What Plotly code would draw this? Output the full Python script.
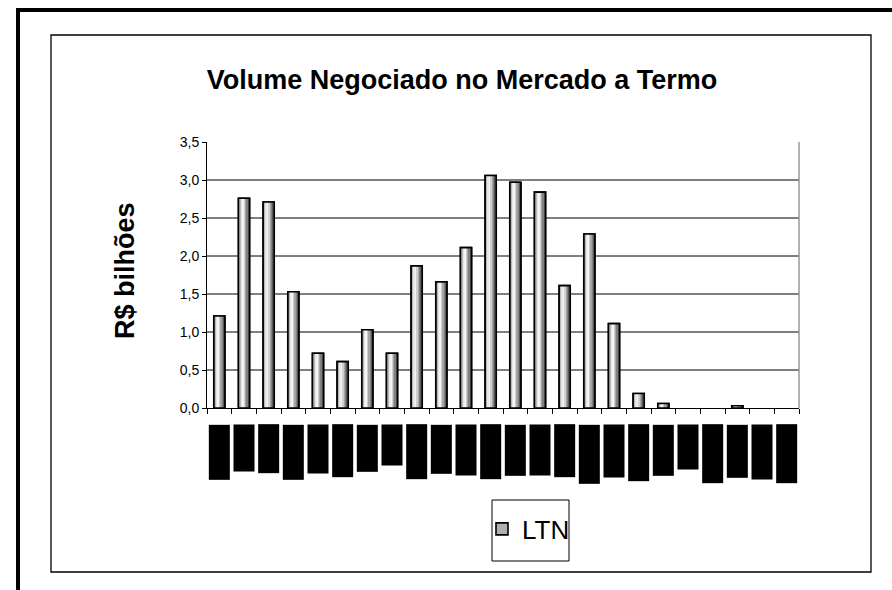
import plotly.graph_objects as go

# ---- data ----
categories = ["jan/00", "fev/00", "mar/00", "abr/00", "mai/00", "jun/00",
              "jul/00", "ago/00", "set/00", "out/00", "nov/00", "dez/00",
              "jan/01", "fev/01", "mar/01", "abr/01", "mai/01", "jun/01",
              "jul/01", "ago/01", "set/01", "out/01", "nov/01", "dez/01"]
ltn_values = [1.21, 2.76, 2.71, 1.53, 0.72, 0.61, 1.03, 0.72, 1.87, 1.66, 2.11, 3.06,
              2.97, 2.84, 1.61, 2.29, 1.11, 0.19, 0.06, 0.0, 0.0, 0.03, 0.0, 0.0]
series_name = "LTN"
title_text = "Volume Negociado no Mercado a Termo"
y_title = "R$ bilhões"
y_ticks = [0, 0.5, 1.0, 1.5, 2.0, 2.5, 3.0, 3.5]
# lengths (px) of the blacked-out tick-label blocks
label_block_len = [54, 46, 48, 54, 48, 52, 46, 40, 54, 48, 50, 54,
                   50, 50, 52, 58, 52, 56, 50, 44, 58, 52, 54, 58]

# ---- geometry ----
W, H = 892, 590
L, R, T, B = 207, 799, 142, 408


def px_x(px):
    return (px - L) / (R - L)


def px_y(py):
    return (B - py) / (B - T)


FONT = "Liberation Sans, Arial, sans-serif"

fig = go.Figure()

bar_w = 0.45
outline_w = [1.6 if v > 0 else 0 for v in ltn_values]

# legend-carrying trace (underneath, gives the legend icon its fill)
fig.add_trace(go.Bar(
    x=categories, y=ltn_values, name=series_name,
    offset=-bar_w / 2, width=bar_w,
    marker=dict(color="#b0b0b0", line=dict(color="black", width=outline_w)),
    showlegend=True, hoverinfo="skip"))

# cylinder-like shading using narrow stripes
stripe_colors = ["#7a7a7a", "#b8b8b8", "#e6e6e6", "#f4f4f4", "#cfcfcf",
                 "#a6a6a6", "#808080", "#5a5a5a"]
n = len(stripe_colors)
for i, c in enumerate(stripe_colors):
    fig.add_trace(go.Bar(
        x=categories, y=ltn_values,
        offset=-bar_w / 2 + i * bar_w / n, width=bar_w / n + 0.004,
        marker=dict(color=c, line=dict(width=0)),
        showlegend=False, hoverinfo="skip"))

# outline on top
fig.add_trace(go.Bar(
    x=categories, y=ltn_values, name=series_name,
    offset=-bar_w / 2, width=bar_w,
    marker=dict(color="rgba(0,0,0,0)", line=dict(color="black", width=outline_w)),
    showlegend=False))

shapes = []
# horizontal gridlines (no line at the top of the range)
for v in y_ticks:
    if 0 < v < max(y_ticks):
        shapes.append(dict(type="line", xref="paper", yref="y",
                           x0=0, x1=1, y0=v, y1=v, layer="below",
                           line=dict(color="black", width=1)))
# outer thick frame
shapes.append(dict(type="rect", xref="paper", yref="paper",
                   x0=px_x(18), x1=px_x(905), y0=px_y(10), y1=px_y(605),
                   line=dict(color="black", width=4)))
# inner chart-area box
shapes.append(dict(type="rect", xref="paper", yref="paper",
                   x0=px_x(51), x1=px_x(871), y0=px_y(35), y1=px_y(572),
                   line=dict(color="black", width=1.3)))
# plot-area right border
shapes.append(dict(type="line", xref="paper", yref="paper",
                   x0=1, x1=1, y0=0, y1=1,
                   line=dict(color="#888888", width=1.3)))
# legend box
shapes.append(dict(type="rect", xref="paper", yref="paper",
                   x0=px_x(492), x1=px_x(569), y0=px_y(500), y1=px_y(561),
                   line=dict(color="black", width=1)))

annotations = []
for cat, ln in zip(categories, label_block_len):
    annotations.append(dict(
        x=cat, xref="x", y=px_y(424), yref="paper", yanchor="top",
        xanchor="center", text=cat, textangle=-90, showarrow=False,
        width=ln, height=20, bgcolor="black", borderpad=0,
        font=dict(color="black", size=9, family=FONT)))
annotations.append(dict(
    x=px_x(125), y=px_y(271), xref="paper", yref="paper",
    text="<b>" + y_title + "</b>", textangle=-90, showarrow=False,
    xanchor="center", yanchor="middle",
    font=dict(size=27, color="black", family=FONT)))

fig.update_layout(
    width=W, height=H,
    margin=dict(l=L, r=W - R, t=T, b=H - B, pad=0),
    paper_bgcolor="white", plot_bgcolor="white",
    separators=",.",
    barmode="overlay",
    title=dict(text="<b>" + title_text + "</b>", x=462 / W, y=1 - 80 / H,
               xref="container", yref="container",
               xanchor="center", yanchor="middle",
               font=dict(size=27, color="black", family=FONT)),
    font=dict(family=FONT, color="black"),
    xaxis=dict(type="category", showline=True, linecolor="black", linewidth=1,
               ticks="outside", tickson="boundaries", ticklen=5,
               tickcolor="black", showticklabels=False, showgrid=False,
               fixedrange=True),
    yaxis=dict(range=[0, 3.5], tickvals=y_ticks, tickformat=".1f",
               showline=True, linecolor="black", linewidth=1,
               ticks="outside", ticklen=4, tickcolor="black",
               showgrid=False, zeroline=False,
               tickfont=dict(size=14, color="black"),
               fixedrange=True),
    showlegend=True,
    legend=dict(x=px_x(482), y=px_y(529), xanchor="left", yanchor="middle",
                bgcolor="rgba(0,0,0,0)", borderwidth=0,
                font=dict(size=26, color="black", family=FONT),
                itemwidth=30),
    shapes=shapes,
    annotations=annotations,
)

fig.write_html("out.html",
               config={"displayModeBar": False},
               post_script="document.body.style.margin='0';"
                           "document.body.style.overflow='hidden';")
